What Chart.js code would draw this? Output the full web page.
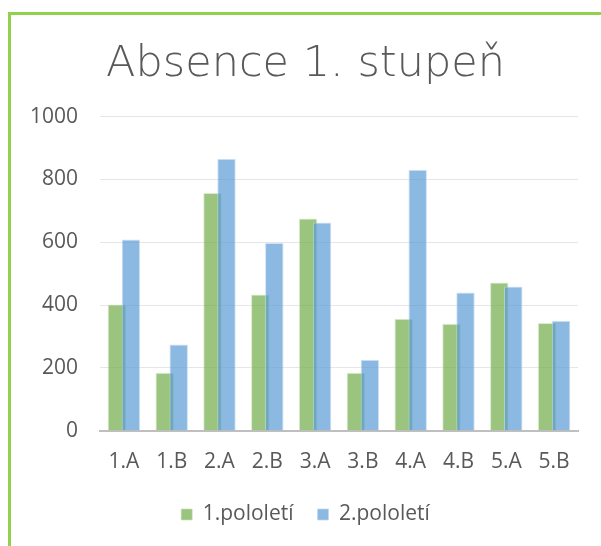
<!DOCTYPE html>
<html><head><meta charset="utf-8">
<script src="https://cdn.jsdelivr.net/npm/chart.js@4"></script>
<style>
html,body{margin:0;padding:0;background:#fff;overflow:hidden}
#wrap{position:relative;width:601px;height:546px}
#frame{position:absolute;left:8px;top:12px;width:700px;height:700px;border:3px solid #92D050;box-sizing:border-box;pointer-events:none}
canvas{position:absolute;left:0;top:0}
</style></head><body>
<div id="wrap"><canvas id="c" width="601" height="546"></canvas><div id="frame"></div></div>
<script>
const categories = ['1.A','1.B','2.A','2.B','3.A','3.B','4.A','4.B','5.A','5.B'];
const semester1 = [402,185,757,434,676,185,357,341,472,343];
const semester2 = [609,275,866,598,663,226,831,440,459,350];
const seriesNames = ['1.pololetí','2.pololetí'];
const yTicks = [0,200,400,600,800,1000];
const titleText = 'Absence 1. stupeň';

const textColor = '#595959';
const baseFont = "'Open Sans', sans-serif";

const drawOrderPlugin = {
  id: 'drawOrder',
  beforeDatasetsDraw(chart) {
    for (let i = 0; i < chart.data.datasets.length; i++) {
      const meta = chart.getDatasetMeta(i);
      if (meta.visible) meta.controller.draw();
    }
    return false;
  }
};

new Chart(document.getElementById('c'), {
  type: 'bar',
  data: {
    labels: categories,
    datasets: [
      { label: seriesNames[0], data: semester1,
        backgroundColor: 'rgba(112,173,71,0.7)', borderColor: 'rgba(197,224,180,0.6)', borderWidth: 1,
        categoryPercentage: 0.586, barPercentage: 1.32 },
      { label: seriesNames[1], data: semester2,
        backgroundColor: 'rgba(91,155,213,0.7)', borderColor: 'rgba(189,215,238,0.7)', borderWidth: 1,
        categoryPercentage: 0.586, barPercentage: 1.32 }
    ]
  },
  options: {
    responsive: false,
    animation: false,
    layout: { padding: { left: 10, right: 0, top: 0, bottom: 11 } },
    plugins: {
      title: {
        display: true, text: titleText, color: textColor,
        font: { family: "'DejaVu Sans', sans-serif", size: 43, weight: '300', lineHeight: 1.2 },
        padding: { top: 39, bottom: 26 }
      },
      legend: {
        position: 'bottom',
        labels: {
          color: textColor, boxWidth: 11, boxHeight: 11, padding: 24,
          font: { family: baseFont, size: 21 }
        }
      },
      tooltip: { enabled: false }
    },
    scales: {
      x: {
        grid: { display: false, drawTicks: false },
        border: { display: true, color: '#BFBFBF', width: 2 },
        ticks: { color: textColor, padding: 19, font: { family: baseFont, size: 21 }, maxRotation: 0, autoSkip: false },
        afterFit(scale) { scale.paddingRight = 23; scale.height -= 14; }
      },
      y: {
        min: 0, max: 1000,
        afterBuildTicks(scale) { scale.ticks = yTicks.map(v => ({ value: v })); },
        grid: { color: '#E6E6E6', lineWidth: 1, drawTicks: false },
        border: { display: false },
        ticks: { color: textColor, padding: 22, font: { family: baseFont, size: 21 }, callback: v => String(v) },
        afterFit(scale) { scale.width = 90; }
      }
    }
  },
  plugins: [drawOrderPlugin]
});
</script>
</body></html>
